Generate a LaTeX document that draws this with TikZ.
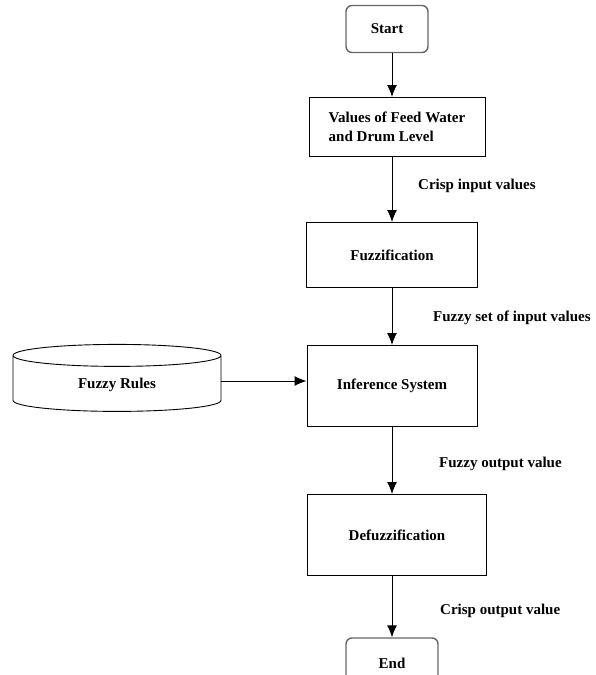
\documentclass[tikz,border=0pt]{standalone}
\usepackage{fontspec}
\setmainfont{Liberation Serif}
\usetikzlibrary{arrows.meta,shapes.geometric}
\begin{document}
\begin{tikzpicture}[x=1pt,y=-1pt,font=\bfseries\fontsize{15}{18.5}\selectfont]
  \tikzstyle{block}=[rectangle,draw,line width=1pt,inner sep=2pt]
  \tikzstyle{term}=[rectangle,rounded corners=6pt,draw=black!60,line width=1.4pt]
  \tikzstyle{store}=[cylinder,shape border rotate=90,draw,line width=0.9pt,aspect=0.26]
  \tikzstyle{tag}=[anchor=west,inner sep=0pt]
  \tikzstyle{line} = [draw, line width=1pt, -{Latex[length=12pt,width=10pt]}]
  \useasboundingbox (0,0) rectangle (595,675);
  \clip (0,0) rectangle (595,675);
  \node[term]  (start) at (387,29)   [minimum width=82,minimum height=47] {Start};
  \node[block] (values) at (397,127) [minimum width=176,minimum height=59,align=left] {Values of Feed Water\\and Drum Level};
  \node[block] (fuzz) at (392,255)   [minimum width=171,minimum height=65] {Fuzzification};
  \node[block] (infer) at (392,386)  [minimum width=170,minimum height=81] {Inference System};
  \node[block] (defuzz) at (397,535) [minimum width=179,minimum height=81] {Defuzzification};
  \node[term]  (end) at (392,663)    [minimum width=92,minimum height=50] {End};
  \node[store] (rules) at (117,385)  [minimum width=208,minimum height=67] {Fuzzy Rules};
  % edge labels
  \node[tag] (crispin) at (418,186)  {Crisp input values};
  \node[tag] (fuzzyin) at (433,318)  {Fuzzy set of input values};
  \node[tag] (fuzzyout) at (439,464) {Fuzzy output value};
  \node[tag] (crispout) at (440,611) {Crisp output value};
  % arrows
  \draw[line] (start.south -| infer) -- (values.north -| infer);
  \draw[line] (values.south -| infer) -- (fuzz.north -| infer);
  \draw[line] (fuzz.south -| infer) -- (infer.north);
  \draw[line] (infer.south) -- (defuzz.north -| infer);
  \draw[line] (defuzz.south -| infer) -- (end.north);
  \draw[line] (rules.east |- 0,381) -- (infer.west |- 0,381);
\end{tikzpicture}
\end{document}
